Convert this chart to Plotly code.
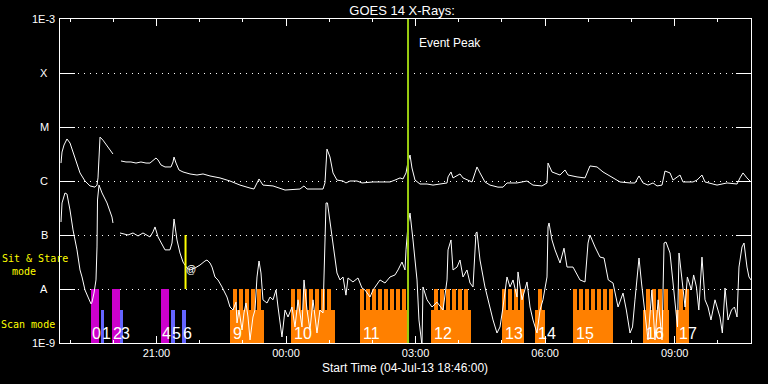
import math
from datetime import datetime, timedelta
import plotly.graph_objects as go

# ---------------- data ----------------
START = datetime(2013, 7, 4, 18, 46)
SPAN_HOURS = 16
EVENT_PEAK_MIN = 483.5          # minutes after start
MARKER_MIN = 174.4              # yellow sit&stare marker

# GOES long channel (1-8 A), minutes after start / flux W m^-2
long_t = [1.4, 2.8, 5.6, 9.7, 13.9, 18.1, 22.2, 27.8, 34.7, 41.7, 48.6, 51.4, 52.8, 54.2, 55.6, 59.7, 65.3, 69.5, 73.6,
          78.0,
          84.7, 91.7, 98.6, 105.6, 112.5, 119.5, 125.0, 129.2, 133.4, 136.2, 140.3, 145.9, 154.2, 157.0, 158.4, 161.2,
          165.3, 170.9, 180.6, 190.3, 198.7, 208.4, 222.3, 236.2, 250.1, 264.0, 269.5, 276.5, 282.0, 295.9, 305.6,
          312.6, 333.4, 339.0, 343.2, 365.4, 368.1, 370.9, 375.1, 379.3, 384.8, 393.2, 397.3, 402.9, 412.6, 419.6,
          434.9, 444.6, 458.5, 465.4, 472.4, 476.5, 480.7, 483.5, 486.3, 489.0, 493.2, 500.1, 509.9, 518.2, 532.1,
          537.7, 539.1, 543.2, 546.0, 555.7, 559.9, 566.8, 572.4, 576.6, 579.3, 583.5, 590.4, 597.4, 608.5, 615.5,
          621.0, 634.9, 648.8, 657.1, 669.6, 676.6, 678.0, 683.5, 694.7, 701.6, 705.8, 718.3, 729.4, 736.3, 746.1,
          754.4, 766.9, 778.0, 791.9, 798.8, 804.4, 810.0, 816.9, 823.9, 829.4, 836.4, 840.5, 847.5, 851.6, 861.4,
          865.5, 879.4, 885.0, 891.9, 896.1, 912.8, 926.7, 940.6, 944.7, 948.9, 954.4, 958.6]
long_f = [2.15e-6, 3.44e-6, 4.64e-6, 6.0e-6, 5.05e-6, 3.44e-6, 2.15e-6, 1.41e-6, 1.0e-6, 8.1e-7, 7.7e-7, 8.4e-7,
          1.14e-6, 2.45e-6, 6.5e-6, 5.7e-6, 4.45e-6, 3.6e-6, 3.16e-6,
          None,
          2.35e-6, 2.25e-6, 2.25e-6, 2.15e-6, 2.25e-6, 2.15e-6, 2.15e-6, 2.45e-6, 2.67e-6, 2.45e-6, 1.98e-6, 1.82e-6,
          1.82e-6, 2.25e-6, 2.78e-6, 2.15e-6, 1.6e-6, 1.47e-6, 1.35e-6, 1.29e-6, 1.35e-6, 1.24e-6, 1.14e-6, 1.0e-6,
          8.4e-7, 7.4e-7, 7.1e-7, 1.09e-6, 8.4e-7, 8.1e-7, 7.4e-7, 6.8e-7, 7.1e-7, 8.1e-7, 7.1e-7, 7.1e-7, 9.2e-7,
          3.9e-6, 2.78e-6, 1.41e-6, 1.04e-6, 1.0e-6, 9.2e-7, 1.0e-6, 1.0e-6, 9.2e-7, 9.6e-7, 9.6e-7, 9.6e-7, 1.04e-6,
          1.14e-6, 1.09e-6, 1.41e-6, 2.25e-6, 3.03e-6, 1.74e-6, 1.04e-6, 8.8e-7, 8.8e-7, 8.4e-7, 8.8e-7, 9.2e-7,
          1.19e-6, 1.47e-6, 1.14e-6, 1.35e-6, 1.14e-6, 1.04e-6, 9.6e-7, 1.41e-6, 1.82e-6, 1.41e-6, 9.6e-7, 8.4e-7,
          7.7e-7, 7.7e-7, 9.2e-7, 9.2e-7, 1.0e-6, 8.4e-7, 8.1e-7, 9.2e-7, 2.15e-6, 1.47e-6, 1.29e-6, 1.6e-6, 1.29e-6,
          1.19e-6, 1.14e-6, 1.9e-6, 1.82e-6, 1.47e-6, 1.19e-6, 9.6e-7, 9.2e-7, 9.2e-7, 1.24e-6, 9.2e-7, 8.4e-7,
          9.2e-7, 8.1e-7, 8.4e-7, 1.53e-6, 1.41e-6, 1.04e-6, 1.29e-6, 9.6e-7, 9.6e-7, 1.04e-6, 1.29e-6, 9.6e-7,
          8.4e-7, 9.2e-7, 8.8e-7, 1.14e-6, 1.41e-6, 1.14e-6, 1.0e-6]

# GOES short channel (0.5-4 A)
short_t = [1.4, 2.8, 6.9, 9.7, 13.9, 18.1, 23.6, 27.8, 30.6, 34.7, 38.9, 43.1, 44.5, 47.2, 50.0, 51.4, 52.1, 54.2,
           58.4, 65.3, 72.2, 73.6,
           78.0,
           83.4, 94.5, 101.4, 108.4, 115.3, 125.0, 129.2, 132.0, 136.2, 141.7, 145.9, 152.8, 155.6, 158.4, 162.5,
           166.7, 170.9, 176.4, 180.6, 187.6, 194.5, 201.4, 204.2, 208.4, 211.2, 215.3, 219.5, 225.1, 232.0, 236.2,
           240.3, 244.5, 245.9, 248.7, 252.9, 255.6, 258.4, 261.2, 264.0, 268.1, 270.9, 273.7, 276.5, 279.2, 282.0,
           287.6, 291.8, 295.9, 300.1, 302.9, 308.4, 312.6, 316.8, 322.3, 326.5, 330.7, 336.2, 339.0, 343.2, 347.3,
           351.5, 357.0, 361.2, 365.4, 368.1, 369.6, 371.6, 375.1, 379.3, 384.8, 389.0, 393.2, 397.3, 400.1, 407.0,
           414.0, 419.6, 423.7, 430.7, 434.9, 444.6, 451.5, 458.5, 465.4, 469.6, 475.1, 479.3, 480.7, 483.5, 486.3,
           490.4, 496.0, 498.7, 502.9, 504.3, 509.9, 516.8, 523.8, 532.1, 537.7, 539.1, 543.2, 546.0, 551.6, 555.7,
           559.9, 565.4, 569.6, 573.8, 577.9, 579.3, 583.5, 590.4, 594.6, 601.6, 607.1, 611.3, 615.5, 621.0, 625.2,
           629.4, 634.9, 636.3, 641.9, 648.8, 653.0, 657.1, 662.7, 666.9, 671.0, 676.6, 678.0, 679.4, 683.5, 687.7,
           694.7, 700.2, 704.4, 712.7, 722.4, 729.4, 733.6, 736.3, 743.3, 750.2, 755.8, 761.7, 768.3, 775.3, 782.2,
           786.8, 791.9, 795.4, 798.8, 804.4, 807.9, 812.4, 816.9, 822.3, 826.6, 831.0, 836.4, 839.2, 841.9, 847.5,
           851.6, 857.9, 860.0, 864.6, 868.4, 871.6, 877.2, 880.3, 884.2, 887.5, 891.9, 896.1, 900.3, 904.4, 910.0,
           916.9, 920.2, 923.9, 928.1, 932.9, 937.0, 940.6, 943.3, 947.5, 950.3, 954.4, 957.2, 960.0]
short_f = [1.74e-7, 3.92e-7, 6.0e-7, 5.74e-7, 2.9e-7, 1.24e-7, 5.3e-8, 2.25e-8, 1.67e-8, 9.6e-9, 7.1e-9, 5.3e-9,
           5.7e-9, 8.4e-9, 1.47e-8, 6.0e-8, 4.45e-7, 8.4e-7, 6.0e-7, 3.92e-7, 2.15e-7, 1.67e-7,
           None,
           1.09e-7, 1.0e-7, 1.09e-7, 9.6e-8, 1.09e-7, 9.2e-8, 1.14e-7, 1.41e-7, 9.2e-8, 6.5e-8, 5.3e-8, 5.3e-8,
           7.1e-8, 1.98e-7, 8.1e-8, 4.64e-8, 3.16e-8, 2.45e-8, 2.25e-8, 2.45e-8, 2.78e-8, 3.3e-8, 3.44e-8, 3.03e-8,
           2.55e-8, 1.67e-8, 1.47e-8, 1.09e-8, 7.1e-9, 4.64e-9, 4.08e-9, 5.7e-9, 2.35e-9, 4.08e-9, 1.74e-9, 3.6e-9,
           5.5e-9, 3.03e-9, 1.14e-9, 3.03e-9, 4.08e-9, 1.67e-8, 3.3e-8, 1.98e-8, 6.3e-9, 5.5e-9, 7.1e-9, 6.3e-9,
           9.6e-9, 4.64e-9, 1.29e-9, 4.08e-9, 3.03e-9, 4.64e-9, 1.98e-9, 6.3e-9, 1.98e-9, 1.47e-8, 4.08e-9, 1.74e-9,
           6.3e-9, 1.53e-9, 4.08e-9, 3.6e-9, 5.3e-8, 3.92e-7, 3.92e-7, 1.67e-7, 7.1e-8, 1.98e-8, 1.47e-8, 1.67e-8,
           7.7e-9, 1.6e-8, 1.35e-8, 1.6e-8, 1.04e-8, 9.6e-9, 7.1e-9, 9.6e-9, 1.47e-8, 1.29e-8, 1.67e-8, 1.82e-8,
           2.25e-8, 3.16e-8, 2.25e-8, 5.3e-8, 1.53e-7, 2.55e-7, 8.1e-8, 1.47e-8, 2.67e-9, 9e-10, 1.09e-8, 6.3e-9,
           4.64e-9, 5.7e-9, 4.08e-9, 1.47e-8, 5.3e-8, 8.1e-8, 2.25e-8, 2.55e-8, 3.44e-8, 1.67e-8, 2.25e-8, 1.29e-8,
           1.09e-8, 1.09e-7, 1.14e-7, 3.44e-8, 1.09e-8, 6.3e-9, 2.67e-9, 1.53e-9, 1.98e-9, 4.64e-9, 1.67e-8, 1.09e-8,
           1.47e-8, 7.1e-9, 2.07e-8, 6.3e-9, 1.35e-8, 4.64e-9, 2.67e-9, 1.53e-9, 4.08e-9, 6.3e-9, 1.67e-8, 1.41e-7,
           1.67e-7, 8.1e-8, 5.3e-8, 3.03e-8, 5.7e-8, 2.55e-8, 2.55e-8, 1.47e-8, 1.35e-8, 7.1e-8, 1.0e-7, 6.0e-8,
           3.9e-8, 3.75e-8, 1.47e-8, 1.29e-8, 4.64e-9, 8.4e-9, 4.08e-9, 1.53e-9, 1.98e-9, 6.3e-9, 3.75e-8, 1.29e-8,
           3.6e-9, 1.14e-9, 9.6e-9, 1.14e-9, 6.3e-9, 1.14e-9, 7.1e-8, 7.4e-8, 4.64e-8, 1.29e-8, 1.98e-9, 4.64e-8,
           1.47e-8, 4.64e-9, 1.67e-8, 9.6e-9, 1.82e-8, 1.09e-8, 4.08e-9, 3.9e-8, 6.3e-9, 4.64e-9, 2.67e-9, 6.3e-9,
           3.03e-9, 1.53e-9, 1.04e-8, 2.67e-9, 4.08e-9, 4.64e-9, 3.03e-9, 2.55e-8, 6.0e-8, 7.1e-8, 2.55e-8, 1.67e-8,
           1.47e-8]

# Sit & stare observations (minutes after start)
sit_labels = ["0", "1", "2", "3", "4", "5", "6"]
sit_start = [43.1, 57.0, 72.2, 83.4, 140.3, 154.2, 169.5]
sit_end = [54.2, 61.1, 83.4, 87.5, 151.4, 159.8, 175.1]
sit_tall = [True, False, True, False, True, False, False]

# Scan observations
scan_labels = ["9", "10", "11", "12", "13", "14", "15", "16", "17"]
scan_start = [236.2, 320.9, 416.8, 515.4, 614.1, 660.0, 712.7, 810.0, 855.8]
scan_end = [283.4, 382.1, 483.5, 571.0, 644.6, 673.8, 768.3, 846.1, 873.9]
raster_start = [
    [240.3, 248.7, 257.0, 265.4, 273.7],
    [320.9, 329.3, 337.6, 345.9, 354.3, 362.6, 371.0],
    [416.8, 425.1, 433.5, 441.8, 450.1, 458.5, 466.8, 475.1],
    [519.6, 527.9, 536.3, 544.6, 552.9, 561.3],
    [614.1, 622.4, 630.7, 639.1],
    [664.1],
    [712.7, 721.0, 729.4, 737.7, 746.1, 754.4, 762.7],
    [814.1, 822.5, 830.8, 839.2],
    [860.0, 868.3],
]
RASTER_LEN = 5.6

y_tick_vals = [1e-9, 1e-8, 1e-7, 1e-6, 1e-5, 1e-4, 1e-3]
y_tick_text = ["1E-9", "A", "B", "C", "M", "X", "1E-3"]

# ---------------- styling constants ----------------
Y_BOTTOM = 1e-9
TALL_TOP = 1e-8
SHORT_TOP = 4.1e-9
LABEL_Y = 1.53e-9
MAGENTA = "#cc00cc"
BLUE = "#6464ff"
ORANGE = "#ff8000"
GREEN = "#99cc11"


def T(m):
    return START + timedelta(minutes=m)


def bar_trace(starts, ends, top, color):
    mids = [T((s + e) / 2) for s, e in zip(starts, ends)]
    widths = [(e - s) * 60000 for s, e in zip(starts, ends)]
    return go.Bar(x=mids, width=widths, base=[Y_BOTTOM] * len(mids),
                  y=[top - Y_BOTTOM] * len(mids), marker=dict(color=color, line=dict(width=0)),
                  hoverinfo="skip")


assert len(long_t) == len(long_f) and len(short_t) == len(short_f)

fig = go.Figure()

# scan blocks: lower part + raster teeth
fig.add_trace(bar_trace(scan_start, scan_end, SHORT_TOP, ORANGE))
r_s = [s for blk in raster_start for s in blk]
r_e = [s + RASTER_LEN for s in r_s]
fig.add_trace(bar_trace(r_s, r_e, TALL_TOP, ORANGE))

# sit & stare bars
fig.add_trace(bar_trace([s for s, k in zip(sit_start, sit_tall) if k],
                        [e for e, k in zip(sit_end, sit_tall) if k], TALL_TOP, MAGENTA))
fig.add_trace(bar_trace([s for s, k in zip(sit_start, sit_tall) if not k],
                        [e for e, k in zip(sit_end, sit_tall) if not k], SHORT_TOP, BLUE))

# GOES curves
fig.add_trace(go.Scatter(x=[T(m) for m in long_t], y=long_f, mode="lines",
                         line=dict(color="white", width=1), connectgaps=False))
fig.add_trace(go.Scatter(x=[T(m) for m in short_t], y=short_f, mode="lines",
                         line=dict(color="white", width=1), connectgaps=False))

# yellow marker and event peak line
fig.add_trace(go.Scatter(x=[T(MARKER_MIN)] * 2, y=[1e-7, 1e-8], mode="lines",
                         line=dict(color="yellow", width=2)))
fig.add_trace(go.Scatter(x=[T(EVENT_PEAK_MIN)] * 2, y=[1e-9, 1e-3], mode="lines",
                         line=dict(color=GREEN, width=2)))

ann = []
LBL_FONT = dict(family="Liberation Sans", size=16, color="white")
for lab, s in zip(sit_labels, sit_start):
    ann.append(dict(x=T(s), y=math.log10(LABEL_Y), xref="x", yref="y", text=lab, showarrow=False,
                    xanchor="left", yanchor="middle", xshift=-1, font=LBL_FONT))
for lab, s in zip(scan_labels, scan_start):
    ann.append(dict(x=T(s), y=math.log10(LABEL_Y), xref="x", yref="y", text=lab, showarrow=False,
                    xanchor="left", yanchor="middle", xshift=1, font=LBL_FONT))

# y tick labels
AX_FONT = dict(family="Liberation Sans", size=11, color="white")
for v, t in zip(y_tick_vals, y_tick_text):
    if t.startswith("1E"):
        ann.append(dict(x=0, y=math.log10(v), xref="paper", yref="y", text=t, showarrow=False,
                        xanchor="right", yanchor="middle", xshift=-3, font=AX_FONT))
    else:
        ann.append(dict(x=0, y=math.log10(v), xref="paper", yref="y", text=t, showarrow=False,
                        xanchor="center", yanchor="middle", xshift=-16, font=AX_FONT))

MONO = dict(family="DejaVu Sans Mono", size=10, color="yellow")
ann.append(dict(x=-0.0369, y=0.2593, xref="paper", yref="paper", text="Sit & Stare",
                showarrow=False, xanchor="center", yanchor="middle", font=MONO))
ann.append(dict(x=-0.0514, y=0.2222, xref="paper", yref="paper", text="mode",
                showarrow=False, xanchor="center", yanchor="middle", font=MONO))
ann.append(dict(x=-0.0456, y=0.0586, xref="paper", yref="paper", text="Scan mode",
                showarrow=False, xanchor="center", yanchor="middle", font=MONO))
ann.append(dict(x=T(EVENT_PEAK_MIN), y=-3.444, xref="x", yref="y", text="Event Peak", showarrow=False,
                xanchor="left", yanchor="middle", xshift=9,
                font=dict(family="Liberation Sans", size=12, color="white")))
ann.append(dict(x=T(182), y=-7.648, xref="x", yref="y", text="@", showarrow=False,
                xanchor="center", yanchor="middle",
                font=dict(family="Liberation Sans", size=10, color="white")))
ann.append(dict(x=0.4993, y=-0.0772, xref="paper", yref="paper",
                text="Start Time (04-Jul-13 18:46:00)", showarrow=False,
                xanchor="center", yanchor="middle",
                font=dict(family="Liberation Sans", size=12, color="white")))

fig.update_layout(
    width=768, height=384,
    margin=dict(l=60, r=17, t=19, b=41),
    paper_bgcolor="black", plot_bgcolor="black",
    showlegend=False, barmode="overlay", bargap=0,
    font=dict(family="Liberation Sans", color="white", size=11),
    title=dict(text="GOES 14 X-Rays:", x=0.495, xref="paper", xanchor="center",
               y=1 - 10 / 384, yref="container", yanchor="middle",
               font=dict(family="Liberation Sans", size=13, color="white")),
    annotations=ann,
)
fig.update_xaxes(
    type="date", range=[T(0), T(SPAN_HOURS * 60)],
    showline=True, linecolor="white", linewidth=1, mirror="ticks",
    ticks="inside", ticklen=7, tickcolor="white", tickwidth=1,
    tick0="2013-07-04 21:00:00", dtick=3 * 3600000, tickformat="%H:%M",
    tickfont=AX_FONT,
    minor=dict(ticks="inside", ticklen=3, dtick=3600000, tickcolor="white", showgrid=False),
    showgrid=False, zeroline=False,
)
fig.update_yaxes(
    type="log", range=[-9, -3],
    showline=True, linecolor="white", linewidth=1, mirror="ticks",
    ticks="inside", ticklen=15, tickcolor="white", tickwidth=1,
    tickvals=y_tick_vals, showticklabels=False,
    showgrid=True, gridcolor="white", gridwidth=1, griddash="1px,5px",
    zeroline=False,
)

fig.write_html("out.html", config={"displayModeBar": False},
               post_script="document.body.style.margin='0px';")
